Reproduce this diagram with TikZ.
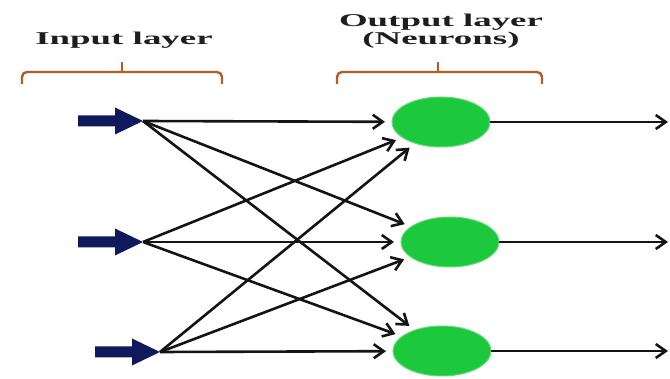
\documentclass[tikz,border=0pt]{standalone}
\usepackage{fontspec}
\setmainfont{Liberation Serif}
\usetikzlibrary{arrows.meta,shapes.geometric}
\definecolor{navyin}{HTML}{0E1A5B}
\definecolor{neurongreen}{HTML}{1CC83C}
\definecolor{bracecol}{HTML}{B85A22}
\definecolor{labelgray}{HTML}{1E1E1E}
\begin{document}
\begin{tikzpicture}[x=1pt,y=-1pt,
  neuron/.style={ellipse, fill=neurongreen, draw=neurongreen!70!white, line width=1pt,
    minimum width=98pt, minimum height=50pt, inner sep=0pt, outer sep=0pt},
  link/.style={line width=2.6pt, draw=black!92,
    -{Straight Barb[length=10pt,width=14pt]}, shorten >=7pt},
  outlink/.style={link, shorten >=0pt},
  inarrow/.style={fill=navyin},
  brace/.style={draw=bracecol, line width=2.4pt, rounded corners=5pt},
  lbl/.style={anchor=base, inner sep=0pt, text=labelgray, xscale=2.05,
    font=\fontsize{18}{18.3}\selectfont\bfseries},
  lblpen/.style={draw=labelgray, line width=0.25pt}]
\useasboundingbox (0,0) rectangle (670,379);

% layer labels (the last baseline carries the anchor) and their brackets
\node[lbl] (inlab) at (124,45) {Input layer};
\node[lbl, align=center] (outlab) at (441,45) {Output layer\\(Neurons)};
\draw[brace] (22,84) -- (22,72) -- (222,72) -- (222,84);
\draw[draw=bracecol, line width=2.4pt] (122,72) -- (122,62);
\draw[brace] (337,84) -- (337,72) -- (542,72) -- (542,84);
\draw[draw=bracecol, line width=2.4pt] (438,72) -- (438,62);

% input points (tips of the block arrows)
\coordinate (i1) at (143,121);
\coordinate (i2) at (143,242);
\coordinate (i3) at (160,352);
\foreach \c in {i1,i2,i3}
  \fill[inarrow] (\c) ++(-65,-5.5) -- ++(37,0) -- ++(0,-8) -- ++(28,13.5)
    -- ++(-28,13.5) -- ++(0,-8) -- ++(-37,0) -- cycle;

% output neurons
\node[neuron] (n1) at (441,122) {};
\node[neuron] (n2) at (450,242) {};
\node[neuron] (n3) at (442,351) {};

% free ends of the output arrows
\coordinate (o1) at (668,122);
\coordinate (o2) at (668,242);
\coordinate (o3) at (668,351);

% fully connected weights
\foreach \a in {i1,i2,i3}
  \foreach \b in {n1,n2,n3}
    \draw[link] (\a) -- (\b);

% outputs
\draw[outlink] (n1) -- (o1);
\draw[outlink] (n2) -- (o2);
\draw[outlink] (n3) -- (o3);
\end{tikzpicture}
\end{document}
